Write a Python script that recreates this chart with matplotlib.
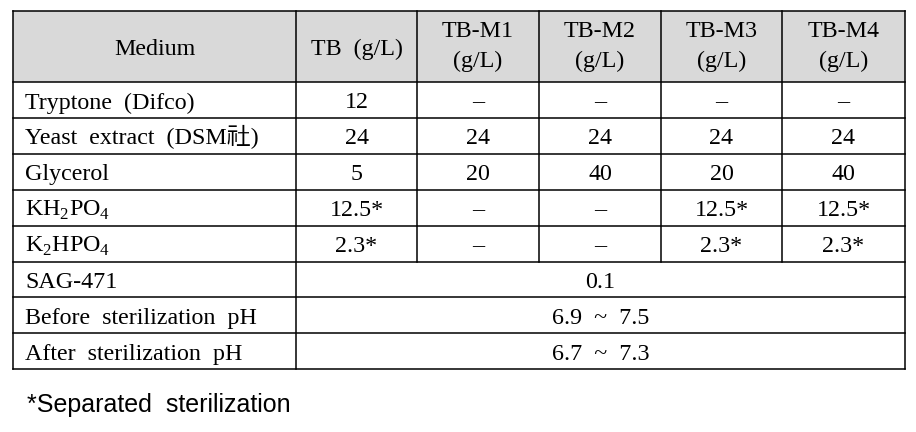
import matplotlib.pyplot as plt
from matplotlib.patches import Rectangle

plt.rcParams['mathtext.fontset'] = 'custom'
plt.rcParams['mathtext.rm'] = 'Liberation Serif'

# === Table content ===
HEADERS = ["Medium", "TB  (g/L)", "TB-M1\n(g/L)", "TB-M2\n(g/L)", "TB-M3\n(g/L)", "TB-M4\n(g/L)"]
ROW_LABELS = [
    "Tryptone  (Difco)",
    "Yeast  extract  (DSM社)",
    "Glycerol",
    r"KH$_\mathrm{2}$PO$_\mathrm{4}$",
    r"K$_\mathrm{2}$HPO$_\mathrm{4}$",
]
TB = ["12", "24", "5", "12.5*", "2.3*"]
TB_M1 = ["–", "24", "20", "–", "–"]
TB_M2 = ["–", "24", "40", "–", "–"]
TB_M3 = ["–", "24", "20", "12.5*", "2.3*"]
TB_M4 = ["–", "24", "40", "12.5*", "2.3*"]

# lignes fusionnées (une valeur pour toutes les colonnes)
MERGED_LABELS = ["SAG-471", "Before  sterilization  pH", "After  sterilization  pH"]
MERGED_VALUES = ["0.1", "6.9  ~  7.5", "6.7  ~  7.3"]

FOOTNOTE = "*Separated  sterilization"

# Géométrie (pixels)
COL_EDGES = [13, 296, 417, 539, 661, 782, 905]
TOP, HEADER_BOTTOM = 11, 82
ROW_H = 35.9
BASE = 26.5  # décalage de la ligne de base dans une rangée

FONT = ['Liberation Serif', 'Noto Sans CJK KR']
FS = 17.3

fig = plt.figure(figsize=(9.16, 4.32), dpi=100)
ax = fig.add_axes([0, 0, 1, 1])
ax.set_xlim(0, 916)
ax.set_ylim(432, 0)
ax.axis("off")

n_rows = len(ROW_LABELS) + len(MERGED_LABELS)
bottom = HEADER_BOTTOM + n_rows * ROW_H
left, right = COL_EDGES[0], COL_EDGES[-1]
lw = 1.1

# En-tête grisé
ax.add_patch(Rectangle((left, TOP), right - left, HEADER_BOTTOM - TOP,
                       facecolor="#d9d9d9", edgecolor="none", zorder=0))
for i, h in enumerate(HEADERS):
    xc = (COL_EDGES[i] + COL_EDGES[i + 1]) / 2
    parts = h.split("\n")
    if len(parts) == 1:
        ax.text(xc, 55, parts[0], ha="center", va="baseline", fontsize=FS, family=FONT)
    else:
        ax.text(xc, 37, parts[0], ha="center", va="baseline", fontsize=FS, family=FONT)
        ax.text(xc, 67, parts[1], ha="center", va="baseline", fontsize=FS, family=FONT)

# Lignes horizontales
ax.plot([left, right], [TOP, TOP], color="black", lw=lw)
for r in range(n_rows + 1):
    y = HEADER_BOTTOM + r * ROW_H
    ax.plot([left, right], [y, y], color="black", lw=lw)

# Lignes verticales
ax.plot([left, left], [TOP, bottom], color="black", lw=lw)
ax.plot([right, right], [TOP, bottom], color="black", lw=lw)
ax.plot([COL_EDGES[1]] * 2, [TOP, bottom], color="black", lw=lw)
split_y = HEADER_BOTTOM + len(ROW_LABELS) * ROW_H
for x in COL_EDGES[2:-1]:
    ax.plot([x, x], [TOP, split_y], color="black", lw=lw)

# Valeurs
columns = [TB, TB_M1, TB_M2, TB_M3, TB_M4]
for r, label in enumerate(ROW_LABELS):
    yb = HEADER_BOTTOM + r * ROW_H + BASE
    ax.text(25, yb, label, ha="left", va="baseline", fontsize=FS, family=FONT)
    for c, col in enumerate(columns):
        xc = (COL_EDGES[c + 1] + COL_EDGES[c + 2]) / 2
        ax.text(xc, yb, col[r], ha="center", va="baseline", fontsize=FS, family=FONT)

for k, (label, val) in enumerate(zip(MERGED_LABELS, MERGED_VALUES)):
    yb = HEADER_BOTTOM + (len(ROW_LABELS) + k) * ROW_H + BASE
    ax.text(25, yb, label, ha="left", va="baseline", fontsize=FS, family=FONT)
    ax.text((COL_EDGES[1] + right) / 2, yb, val, ha="center", va="baseline",
            fontsize=FS, family=FONT)

# Note de bas
ax.text(27, 412, FOOTNOTE, ha="left", va="baseline", fontsize=18,
        family=['Liberation Sans', 'DejaVu Sans'])

fig.savefig("out.png", dpi=100)
